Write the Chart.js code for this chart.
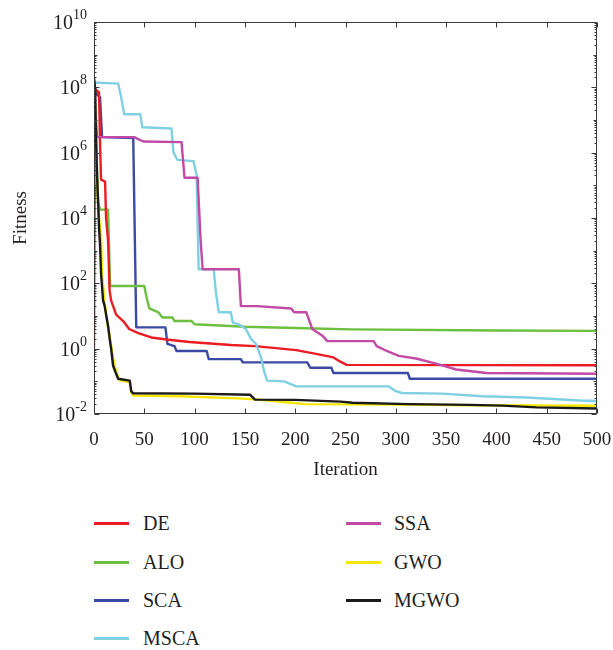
<!DOCTYPE html>
<html><head><meta charset="utf-8">
<script src="https://cdn.jsdelivr.net/npm/chart.js@4.4.1/dist/chart.umd.min.js"></script>
<style>
html,body{margin:0;padding:0;background:#fff;}
#wrap{position:relative;width:613px;height:650px;overflow:hidden;background:#fff;}
canvas{position:absolute;left:0;top:0;}
.lg{position:absolute;font-family:'Liberation Serif',serif;font-size:20px;color:#231f20;line-height:24px;height:24px;white-space:nowrap;}
.sw{position:absolute;width:35px;height:3px;}
</style></head><body>
<div id="wrap"><canvas id="c" width="613" height="500"></canvas><div id="legend"></div></div>
<script>
// ---- data ----
const seriesNames = ['DE','ALO','SCA','MSCA','SSA','GWO','MGWO'];
const seriesColors = ['#ec1c24','#6cbf3f','#3b4ba3','#7fd0e2','#c24aa6','#f4e600','#1a1a1a'];

const deIter = [0,1,5,6,7,11,12,14,15.5,17,22,29,35,44,57,72,95,136,160,186,201,222,238,245,251,500];
const deFit  = [1.1,9e7,7e7,2e6,1.5e5,1.3e5,1e4,2e3,60,30,11,7,4,3,2.2,1.9,1.6,1.3,1.2,1.0,0.9,0.68,0.54,0.4,0.32,0.31];

const aloIter = [0,2,4,6,14,16,50,52,55,64,68,78,80,97,100,150,200,255,400,500];
const aloFit  = [4e7,3e6,3e4,1.8e4,1.8e4,83,83,40,17,13,9,9,7,7,5.6,4.7,4.3,3.9,3.6,3.5];

const scaIter = [0,3,6,8,39,42,71,73,80,82,112,114,146,148,212,215,236,238,312,314,500];
const scaFit  = [1.2e8,6e7,5e7,3e6,2.8e6,4.5,4.5,1.4,1.2,0.85,0.85,0.48,0.48,0.38,0.38,0.26,0.26,0.18,0.18,0.12,0.12];

const mscaIter = [0,24,27,30,46,48,77,79,83,99,102,104,119,121,124,136,138,144,151,156,161,166,169,172,189,201,293,300,306,346,386,430,483,500];
const mscaFit  = [1.4e8,1.3e8,5e7,1.5e7,1.5e7,6e6,5.5e6,1e6,6e5,5.5e5,2e5,2.7e2,2.7e2,60,13,13,6.3,5.5,4,2,1.4,0.54,0.21,0.105,0.1,0.07,0.07,0.05,0.044,0.042,0.035,0.032,0.026,0.025];

const ssaIter = [0,3,40,44,49,87,90,103,106,108,144,146,162,196,199,211,217,227,232,278,281,291,303,320,340,360,390,500];
const ssaFit  = [1e8,3e6,3e6,2.6e6,2.2e6,2.1e6,1.7e5,1.7e5,2e3,2.7e2,2.7e2,20,20,17,13,13,4,2.5,1.7,1.7,1.2,0.85,0.6,0.5,0.35,0.23,0.18,0.17];

const gwoIter = [0,1,2,3,5,7,8,10,12,16,19,22,25,36,37,39,86,143,160,191,210,300,373,500];
const gwoFit  = [5e7,3e7,1e6,1e5,1e4,3e3,2e2,40,10,2,0.5,0.2,0.11,0.093,0.045,0.037,0.035,0.03,0.028,0.023,0.02,0.0195,0.0185,0.0178];

const mgwoIter = [0,1,2,3,4,5,6,7,9,10.6,14,15.6,17,19,22,24,35.5,37,39,100,155,160,200,245,257,313,373,406,440,500];
const mgwoFit  = [2e8,1e8,3e6,2e5,4e4,5e3,1.5e3,2e2,30,20,5,2,1,0.3,0.17,0.12,0.105,0.05,0.043,0.042,0.039,0.0275,0.027,0.024,0.022,0.02,0.019,0.018,0.016,0.0148];

const xTickValues = [0,50,100,150,200,250,300,350,400,450,500];
const yTickExponents = [-2,0,2,4,6,8,10];

// ---- build datasets ----
const iters = [deIter,aloIter,scaIter,mscaIter,ssaIter,gwoIter,mgwoIter];
const fits  = [deFit,aloFit,scaFit,mscaFit,ssaFit,gwoFit,mgwoFit];
const drawOrder = [4,5,6,3,2,1,0]; // lower = on top
const datasets = seriesNames.map((n,i)=>({
  label:n,
  data: iters[i].map((x,j)=>({x:x,y:fits[i][j]})),
  borderColor: seriesColors[i],
  backgroundColor: seriesColors[i],
  borderWidth: 2.4,
  pointRadius: 0,
  tension: 0,
  fill: false,
  order: drawOrder[i],
  borderJoinStyle:'round'
}));

const FONT = "'Liberation Serif', 'Times New Roman', serif";
const TXT = '#231f20';

const framePlugin = {
  id:'frame',
  afterDraw(chart){
    const {ctx, chartArea:a, scales:{x,y}} = chart;
    ctx.save();
    ctx.strokeStyle='#3a3a3a'; ctx.lineWidth=1;
    const L=Math.round(a.left)+0.5, R=Math.round(a.right)-0.5, T=Math.round(a.top)+0.5, B=Math.round(a.bottom)-0.5;
    ctx.strokeRect(L,T,R-L,B-T);
    ctx.beginPath();
    xTickValues.forEach(v=>{
      const px=Math.round(x.getPixelForValue(v))+0.5;
      ctx.moveTo(px,B); ctx.lineTo(px,B-5);
      ctx.moveTo(px,T); ctx.lineTo(px,T+5);
    });
    const eMin = yTickExponents[0], eMax = yTickExponents[yTickExponents.length-1];
    for(let e=eMin;e<=eMax;e++){
      for(let m=1;m<=9;m++){
        if(e===eMax && m>1) break;
        const py=Math.round(y.getPixelForValue(m*Math.pow(10,e)))+0.5;
        let len = 2;
        if(m===1) len = yTickExponents.includes(e)?5:3;
        ctx.moveTo(L,py); ctx.lineTo(L+len,py);
        ctx.moveTo(R,py); ctx.lineTo(R-len,py);
      }
    }
    ctx.stroke();
    // y tick labels: 10 with superscript exponent
    ctx.fillStyle=TXT; ctx.textBaseline='alphabetic'; ctx.textAlign='left';
    yTickExponents.forEach(e=>{
      const py=y.getPixelForValue(Math.pow(10,e));
      const expStr = e<0 ? '-'+Math.abs(e) : String(e);
      ctx.font = "14px "+FONT;
      const ew = ctx.measureText(expStr).width;
      ctx.font = "20px "+FONT;
      const bw = ctx.measureText('10').width;
      const right = 87;
      const x0 = right - ew - bw;
      ctx.fillText('10', x0, py+7);
      ctx.font = "14px "+FONT;
      ctx.fillText(expStr, x0+bw, py-3);
    });
    ctx.restore();
  }
};

const chart = new Chart(document.getElementById('c'), {
  type:'line',
  data:{datasets},
  options:{
    responsive:false,
    animation:false,
    devicePixelRatio:1,
    layout:{padding:{top:22,right:16,left:0,bottom:0}},
    plugins:{legend:{display:false},tooltip:{enabled:false}},
    scales:{
      x:{
        type:'linear', min:0, max:500,
        afterBuildTicks(s){ s.ticks = xTickValues.map(v=>({value:v})); },
        afterFit(s){ s.height = 86; s.paddingLeft = 0; s.paddingRight = 0; },
        grid:{display:false, drawTicks:false},
        border:{display:false},
        ticks:{autoSkip:false, maxRotation:0, padding:15, color:TXT, font:{family:FONT, size:19}},
        title:{display:true, text:'Iteration', color:TXT, font:{family:FONT, size:19}, padding:{top:0,bottom:19}}
      },
      y:{
        type:'logarithmic', min:1e-2, max:1e10,
        afterBuildTicks(s){ s.ticks = yTickExponents.map(e=>({value:Math.pow(10,e)})); },
        afterFit(s){ s.width = 94; s.paddingTop = 0; s.paddingBottom = 0; },
        grid:{display:false, drawTicks:false},
        border:{display:false},
        ticks:{display:false},
        title:{display:true, text:'Fitness', color:TXT, font:{family:FONT, size:19}, padding:{top:10,bottom:0}}
      }
    }
  },
  plugins:[framePlugin]
});

// ---- legend (two columns) ----
const legendCols = [[0,1,2,3],[4,5,6]];
const colLineX = [94,346];
const colTextX = [143,394];
const rowY = [523,562,600,638];
const lg = document.getElementById('legend');
legendCols.forEach((col,ci)=>{
  col.forEach((si,ri)=>{
    const sw=document.createElement('div'); sw.className='sw';
    sw.style.left=colLineX[ci]+'px'; sw.style.top=(rowY[ri]-1.5)+'px'; sw.style.background=seriesColors[si];
    lg.appendChild(sw);
    const t=document.createElement('div'); t.className='lg';
    t.style.left=colTextX[ci]+'px'; t.style.top=(rowY[ri]-12)+'px'; t.textContent=seriesNames[si];
    lg.appendChild(t);
  });
});
</script>
</body></html>
